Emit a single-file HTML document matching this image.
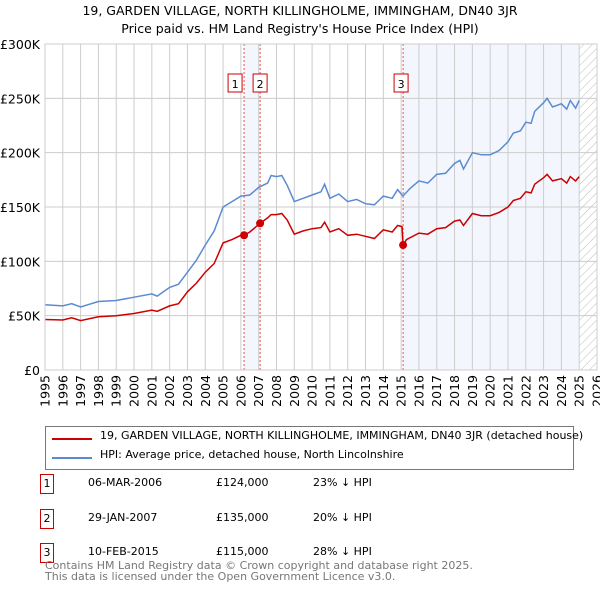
<!DOCTYPE html>
<html><head><meta charset="utf-8"><style>
body{margin:0;background:#fff;font-family:"DejaVu Sans","Liberation Sans",sans-serif;}
#wrap{position:relative;width:600px;height:590px;overflow:hidden;}
.t{position:absolute;white-space:nowrap;color:#000;}
</style></head><body><div id="wrap">
<svg id="svg" width="600" height="590" style="position:absolute;left:0;top:0" font-family="DejaVu Sans, Liberation Sans, sans-serif">
<defs><pattern id="hatch" width="6" height="6" patternUnits="userSpaceOnUse" patternTransform="rotate(45)"><line x1="0" y1="0" x2="0" y2="6" stroke="#bbb" stroke-width="1"/></pattern></defs>
<text x="300" y="15" text-anchor="middle" font-size="12.5">19, GARDEN VILLAGE, NORTH KILLINGHOLME, IMMINGHAM, DN40 3JR</text>
<text x="300" y="33" text-anchor="middle" font-size="12.5">Price paid vs. HM Land Registry's House Price Index (HPI)</text>
<g id="plot"></g>
</svg>
<div class="t" style="left:45px;top:426px;width:527px;height:42px;border:1px solid #777;">
 <div style="position:absolute;left:6px;top:11px;width:40px;height:2px;background:#cc0000"></div>
 <div class="t" style="left:54px;top:2px;font-size:11px">19, GARDEN VILLAGE, NORTH KILLINGHOLME, IMMINGHAM, DN40 3JR (detached house)</div>
 <div style="position:absolute;left:6px;top:30px;width:40px;height:2px;background:#5b8bd0"></div>
 <div class="t" style="left:54px;top:21px;font-size:11px">HPI: Average price, detached house, North Lincolnshire</div>
</div>
<div id="tbl"></div>
<div class="t" style="left:45px;top:560px;font-size:11px;color:#777;line-height:11px">Contains HM Land Registry data © Crown copyright and database right 2025.<br>This data is licensed under the Open Government Licence v3.0.</div>
</div>
<script>
const hpiYears=[1995,1996,1996.5,1997,1998,1999,2000,2001,2001.3,2002,2002.5,2003,2003.5,2004,2004.5,2005,2005.5,2006,2006.5,2007,2007.5,2007.7,2008,2008.3,2008.6,2009,2009.5,2010,2010.5,2010.7,2011,2011.5,2012,2012.5,2013,2013.5,2014,2014.5,2014.8,2015.1,2015.5,2016,2016.5,2017,2017.5,2018,2018.3,2018.5,2019,2019.5,2020,2020.5,2021,2021.3,2021.7,2022,2022.3,2022.5,2023,2023.2,2023.5,2024,2024.3,2024.5,2024.8,2025];
const hpiValues=[60,59,61,58,63,64,67,70,68,76,79,90,101,115,128,150,155,160,161,168,172,179,178,179,170,155,158,161,164,171,158,162,155,157,153,152,160,158,166,160,167,174,172,180,181,190,193,185,200,198,198,202,210,218,220,228,227,238,246,250,242,245,240,248,241,248];
const redYears=[1995,1996,1996.5,1997,1998,1999,2000,2001,2001.3,2002,2002.5,2003,2003.5,2004,2004.5,2005,2005.5,2006,2006.18,2006.5,2007.08,2007.5,2007.7,2008,2008.3,2008.6,2009,2009.5,2010,2010.5,2010.7,2011,2011.5,2012,2012.5,2013,2013.5,2014,2014.5,2014.8,2015.05,2015.11,2015.3,2016,2016.5,2017,2017.5,2018,2018.3,2018.5,2019,2019.5,2020,2020.5,2021,2021.3,2021.7,2022,2022.3,2022.5,2023,2023.2,2023.5,2024,2024.3,2024.5,2024.8,2025];
const redValues=[46.5,46,48,45.5,49,50,52,55,54,59,61,72,80,90,98,117,120,124,124,127,135,140,143,143,144,138,125,128,130,131,136,127,130,124,125,123,121,129,127,133,132,115,120,126,125,130,131,137,138,133,144,142,142,145,150,156,158,164,163,171,177,180,174,176,172,178,174,178];
const saleLabels=["1","2","3"];
const saleYears=[2006.18,2007.08,2015.11];
const saleValues=[124,135,115];
const saleDates=["06-MAR-2006","29-JAN-2007","10-FEB-2015"];
const salePrices=["£124,000","£135,000","£115,000"];
const salePct=["23% ↓ HPI","20% ↓ HPI","28% ↓ HPI"];
const yTicks=[0,50,100,150,200,250,300];
const yTickLabels=["£0","£50K","£100K","£150K","£200K","£250K","£300K"];
const xTicks=[1995,1996,1997,1998,1999,2000,2001,2002,2003,2004,2005,2006,2007,2008,2009,2010,2011,2012,2013,2014,2015,2016,2017,2018,2019,2020,2021,2022,2023,2024,2025,2026];

const X0=45,X1=597,Y0=370,Y1=44;
const xs=y=>X0+(y-1995)/(2026-1995)*(X1-X0);
const ys=v=>Y0-v/300*(Y0-Y1);
const NS="http://www.w3.org/2000/svg";
const g=document.getElementById('plot');
function mk(tag,attrs,parent){const e=document.createElementNS(NS,tag);for(const k in attrs)e.setAttribute(k,attrs[k]);(parent||g).appendChild(e);return e;}
// shading
let r=mk('rect',{x:xs(saleYears[0]),y:Y1,width:xs(saleYears[1])-xs(saleYears[0]),height:Y0-Y1,fill:'#eef3fc',opacity:0.7});


r=mk('rect',{x:xs(saleYears[2]),y:Y1,width:xs(2025)-xs(saleYears[2]),height:Y0-Y1,fill:'#eef3fc',opacity:0.7});


r=mk('rect',{x:xs(2025),y:Y1,width:X1-xs(2025),height:Y0-Y1,fill:'url(#hatch)'});


// grid
yTicks.forEach((v,i)=>{
 const l=mk('line',{x1:X0,x2:X1,y1:ys(v),y2:ys(v),stroke:'#ccc'});
 
 
 const t=mk('text',{x:40,y:ys(v)+5,'text-anchor':'end','font-size':12.5});
 t.textContent=yTickLabels[i];
 
 
});
xTicks.forEach(yr=>{
 const l=mk('line',{x1:xs(yr),x2:xs(yr),y1:Y1,y2:Y0,stroke:'#ccc'});
 
 
 const t=mk('text',{x:0,y:0,'text-anchor':'end','font-size':12.5,transform:`translate(${xs(yr)+4.5},${Y0+5}) rotate(-90)`});
 t.textContent=yr;
 
 
});
// sale lines
saleYears.forEach((yr,i)=>{
 const l=mk('line',{x1:xs(yr),x2:xs(yr),y1:Y1,y2:Y0,stroke:'#e05050','stroke-dasharray':'2,2'});
 
 
});
// series
function path(xa,va,col,name){
 const d=xa.map((x,i)=>(i?'L':'M')+xs(x).toFixed(1)+','+ys(va[i]).toFixed(1)).join('');
 const p=mk('path',{d,fill:'none',stroke:col,'stroke-width':1.5});
 
 
}
path(hpiYears,hpiValues,'#5b8bd0','hpi-line');
path(redYears,redValues,'#cc0000','property-price-line');
saleYears.forEach((yr,i)=>{
 const c=mk('circle',{cx:xs(yr),cy:ys(saleValues[i]),r:4,fill:'#cc0000'});
 
 
 const bx=i==0?xs(yr)-16:(i==1?xs(yr)-7:xs(yr)-9);
 const b=mk('rect',{x:bx,y:74,width:14,height:18,fill:'#fff',stroke:'#cc0000'});
 
 
 const t=mk('text',{x:bx+7,y:88,'text-anchor':'middle','font-size':11});
 t.textContent=saleLabels[i];
 
 
});
const ax=mk('rect',{x:X0,y:Y1,width:X1-X0,height:Y0-Y1,fill:'none',stroke:'#ccc'});


// table
const tbl=document.getElementById('tbl');
saleLabels.forEach((s,i)=>{
 const top=474+i*34.5;
 const row=document.createElement('div');
 
 
 row.innerHTML=`<div class="t" style="left:40px;top:${top}px;width:12px;height:18px;border:1px solid #cc0000;font-size:11px;text-align:center;line-height:18px">${s}</div>
<div class="t" style="left:88px;top:${top+2}px;font-size:11px">${saleDates[i]}</div>
<div class="t" style="left:216px;top:${top+2}px;font-size:11px">${salePrices[i]}</div>
<div class="t" style="left:313px;top:${top+2}px;font-size:11px">${salePct[i]}</div>`;
 tbl.appendChild(row);
});
</script>
</body></html>
